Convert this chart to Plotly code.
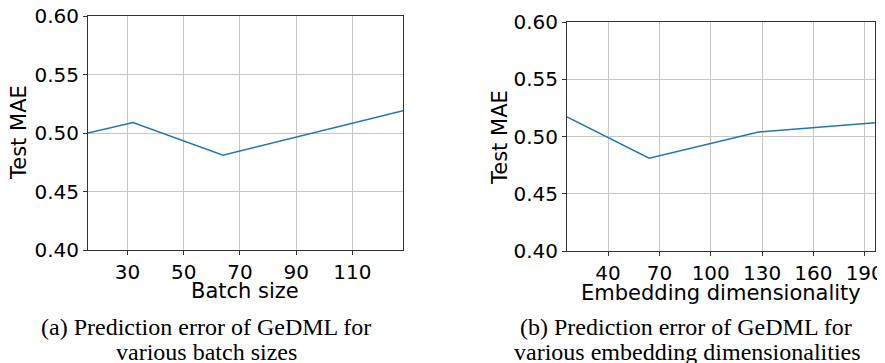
import plotly.graph_objects as go

# Data
batch_sizes = [16, 32, 64, 128]
batch_mae = [0.500, 0.509, 0.481, 0.519]
emb_dims = [16, 64, 128, 196]
emb_mae = [0.517, 0.481, 0.504, 0.512]

y_ticks = [0.40, 0.45, 0.50, 0.55, 0.60]
x_ticks_a = [30, 50, 70, 90, 110]
x_ticks_b = [40, 70, 100, 130, 160, 190]

# The page body has an 8px default margin; compensate so that
# positions below are in window pixels.
OFF = 8
W, H = 885 - OFF, 363 - OFF
def px(x):
    return (x - OFF) / W
def py(y):
    return 1 - (y - OFF) / H

fig = go.Figure()
line_style = dict(color="#1f77b4", width=1.5)
fig.add_trace(go.Scatter(x=batch_sizes, y=batch_mae, mode="lines", line=line_style,
                         xaxis="x", yaxis="y", showlegend=False))
fig.add_trace(go.Scatter(x=emb_dims, y=emb_mae, mode="lines", line=line_style,
                         xaxis="x2", yaxis="y2", showlegend=False))

tickfont = dict(family="DejaVu Sans", size=20, color="#000000")
common = dict(showline=True, mirror=True, linecolor="#333333", linewidth=1,
              showgrid=True, gridcolor="#c8c8c8", gridwidth=1,
              ticks="outside", ticklen=4, tickwidth=1, tickcolor="#333333",
              tickfont=tickfont, zeroline=False, automargin=False,
              ticklabeloverflow="allow")

fig.update_layout(
    template="none",
    width=W, height=H,
    margin=dict(l=0, r=0, t=0, b=0, pad=0),
    paper_bgcolor="white", plot_bgcolor="white",
    xaxis=dict(domain=[px(88), px(403)], range=[16, 128], tickvals=x_ticks_a,
               anchor="y", **common),
    yaxis=dict(domain=[py(250), py(16)], range=[0.40, 0.60], tickvals=y_ticks,
               tickformat=".2f", anchor="x", **common),
    xaxis2=dict(domain=[px(567), px(875)], range=[16, 196], tickvals=x_ticks_b,
                anchor="y2", **common),
    yaxis2=dict(domain=[py(251), py(22)], range=[0.40, 0.60], tickvals=y_ticks,
                tickformat=".2f", anchor="x2", **common),
)

title_font = dict(family="DejaVu Sans", size=21, color="#000000")
cap_font = dict(family="Liberation Serif", size=24, color="#000000")

def ann(text, x, y, font, angle=0):
    fig.add_annotation(text=text, x=px(x), y=py(y), xref="paper", yref="paper",
                       showarrow=False, xanchor="center", yanchor="middle",
                       font=font, textangle=angle)

ann("Batch size", 245, 291, title_font)
ann("Test MAE", 19, 133, title_font, -90)
ann("Embedding dimensionality", 721, 293, title_font)
ann("Test MAE", 500, 138, title_font, -90)

ann("(a) Prediction error of GeDML for", 206, 327, cap_font)
ann("various batch sizes", 206, 352, cap_font)
ann("(b) Prediction error of GeDML for", 686, 327, cap_font)
ann("various embedding dimensionalities", 687, 352, cap_font)

fig.write_html("out.html")
